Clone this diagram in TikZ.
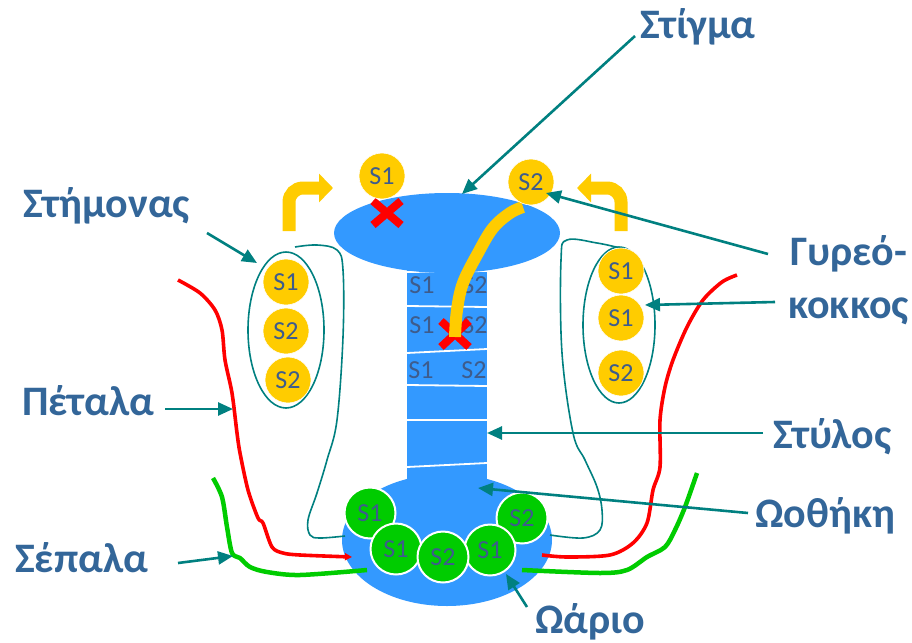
\documentclass[tikz,border=0pt]{standalone}
\usepackage{fontspec}
\setmainfont{Carlito}
\usetikzlibrary{arrows.meta}
\definecolor{organ}{RGB}{51,153,255}
\definecolor{pollenc}{RGB}{255,204,0}
\definecolor{ovg}{RGB}{0,204,0}
\definecolor{redc}{RGB}{255,0,0}
\definecolor{tealc}{RGB}{0,128,128}
\definecolor{lblc}{RGB}{51,102,153}
\definecolor{stext}{RGB}{62,92,140}
\begin{document}
\begin{tikzpicture}[x=1pt,y=-1pt,
  lbl/.style={font=\fontsize{42}{48}\selectfont\bfseries, text=lblc, inner sep=0pt, anchor=base west},
  ptr/.style={draw=tealc, line width=2.6pt, -{Triangle[length=15pt,width=13pt]}},
  pol/.style={circle, fill=pollenc, draw=white, line width=0.6pt, minimum size=46pt, inner sep=0pt, text=stext, font=\fontsize{26}{28}\selectfont},
  ovu/.style={circle, fill=ovg, draw=white, line width=2pt, minimum size=51pt, inner sep=0pt, text=stext, font=\fontsize{26}{28}\selectfont},
  stx/.style={text=stext, font=\fontsize{26}{28}\selectfont, inner sep=0pt},
  fil/.style={draw=tealc, line width=1.6pt},
  petal/.style={draw=redc, line width=3.6pt, line join=round},
  sepal/.style={draw=ovg, line width=4.5pt, line join=round},
  xmark/.style={draw=redc, line width=8pt},
  ybend/.style={draw=pollenc, line width=13pt, rounded corners=14pt, -{Triangle[length=14pt,width=28pt]}},
  sline/.style={draw=white, line width=1.8pt}
]
\useasboundingbox (0,0) rectangle (912,642);
\fill[white] (0,0) rectangle (912,642);

% ovary and style
\fill[organ] (447,540) ellipse [x radius=105pt, y radius=66pt];
\fill[organ] (407,265) rectangle (487,487);
\draw[sline] (407,272) -- (487,271);
\draw[sline] (407,306) -- (487,307);
\draw[sline] (407,353) -- (487,349);
\draw[sline] (407,385) -- (487,386);
\draw[sline] (407,420) -- (487,420);
\draw[sline] (407,467) -- (487,463);
\node[stx] (st1a) at (422,285) {S1};
\node[stx] (st1b) at (475,285) {S2};
\node[stx] (st2a) at (422,325) {S1};
\node[stx] (st2b) at (475,325) {S2};
\node[stx] (st3a) at (421,370) {S1};
\node[stx] (st3b) at (474,370) {S2};
% stigma
\fill[organ] (447,233) ellipse [x radius=113pt, y radius=40pt];

% petals
\draw[petal, -{Triangle[length=7pt,width=7pt]}] plot[smooth, tension=0.5] coordinates {(178,280) (200,293) (215,310) (222,330) (225,360) (232,393) (237,433) (240,453) (248,490) (258,518) (263,523) (272,547) (283,553) (300,555) (352,557)};
\draw[petal] plot[smooth, tension=0.5] coordinates {(737,275) (722,282) (703,300) (687,327) (673,360) (665,387) (660,420) (660,467) (653,490) (647,523) (633,543) (610,555) (567,557) (542,555)};
% sepals
\draw[sepal] plot[smooth, tension=0.5] coordinates {(213,478) (222,497) (227,527) (232,553) (240,558) (250,567) (267,572) (300,575) (367,570)};
\draw[sepal] plot[smooth, tension=0.5] coordinates {(697,473) (685,507) (675,530) (665,547) (647,557) (627,570) (600,573) (522,570)};
% filaments
\draw[fil] plot[smooth, tension=0.6] coordinates {(295,247) (317,245) (337,250) (343,270) (343,337) (337,420) (327,460) (317,493) (308,520) (310,535) (320,538) (345,536)};
\draw[fil] plot[smooth, tension=0.6] coordinates {(620,248) (597,243) (567,240) (561,260) (562,353) (573,433) (585,460) (597,487) (602,510) (600,530) (583,538) (550,535)};
% anthers
\draw[fil] (286,330) ellipse [x radius=38pt, y radius=78pt];
\draw[fil] (619,325) ellipse [x radius=36pt, y radius=78pt];
\node[pol] (la) at (286,282) {S1};
\node[pol] (lb) at (286,331) {S2};
\node[pol] (lc) at (288,380) {S2};
\node[pol] (ra) at (621,271) {S1};
\node[pol] (rb) at (621,318) {S1};
\node[pol] (rc) at (621,373) {S2};

% ovules
\node[ovu] (o1) at (370,513) {S1};
\node[ovu] (o5) at (522,518) {S2};
\node[ovu] (o2) at (396,549) {S1};
\node[ovu] (o4) at (490,550) {S1};
\node[ovu] (o3) at (443,557) {S2};

% red crosses
\draw[xmark] (373,201) -- (401,225) (401,201) -- (373,225);
\draw[xmark] (441,321) -- (469,347) (469,321) -- (441,347);
% pollen tube
\draw[draw=pollenc, line width=12pt] plot[smooth, tension=0.6] coordinates {(523,207) (510,213) (493,228) (478,253) (463,283) (457,310) (455,337)};
% top pollen grains
\node[pol] (p1) at (382,176) {S1};
\node[pol] (p2) at (531,182) {S2};

% yellow bent arrows
\draw[ybend] (289,231) -- (289,188) -- (333,188);
\draw[ybend] (621,231) -- (621,188) -- (577,188);

% labels
\node[lbl] (lStigma) at (640,38) {Στίγμα};
\node[lbl] (lStamen) at (23,217) {Στήμονας};
\node[lbl] (lPollen1) at (790,265) {Γυρεό-};
\node[lbl] (lPollen2) at (788,318) {κοκκος};
\node[lbl] (lPetal) at (22,415) {Πέταλα};
\node[lbl] (lStyle) at (773,448) {Στύλος};
\node[lbl] (lOvary) at (755,527) {Ωοθήκη};
\node[lbl] (lSepal) at (15,572) {Σέπαλα};
\node[lbl] (lOvule) at (535,633) {Ωάριο};

% arrow endpoints
\coordinate (aStigma0) at (635,36);   \coordinate (aStigma1) at (462,194);
\coordinate (aStamen0) at (207,233);  \coordinate (aStamen1) at (257,263);
\coordinate (aPol0) at (768,254);     \coordinate (aPol1) at (546,193);
\coordinate (aPolb0) at (775,302);    \coordinate (aPolb1) at (645,305);
\coordinate (aPetal0) at (165,409);   \coordinate (aPetal1) at (233,409);
\coordinate (aStyle0) at (763,433);   \coordinate (aStyle1) at (487,433);
\coordinate (aOvary0) at (748,513);   \coordinate (aOvary1) at (478,488);
\coordinate (aSepal0) at (178,563);   \coordinate (aSepal1) at (233,556);
\coordinate (aOvule0) at (527,607);   \coordinate (aOvule1) at (506,574);
\draw[ptr] (aStigma0) -- (aStigma1);
\draw[ptr] (aStamen0) -- (aStamen1);
\draw[ptr] (aPol0) -- (aPol1);
\draw[ptr] (aPolb0) -- (aPolb1);
\draw[ptr] (aPetal0) -- (aPetal1);
\draw[ptr] (aStyle0) -- (aStyle1);
\draw[ptr] (aOvary0) -- (aOvary1);
\draw[ptr] (aSepal0) -- (aSepal1);
\draw[ptr] (aOvule0) -- (aOvule1);
\end{tikzpicture}
\end{document}
